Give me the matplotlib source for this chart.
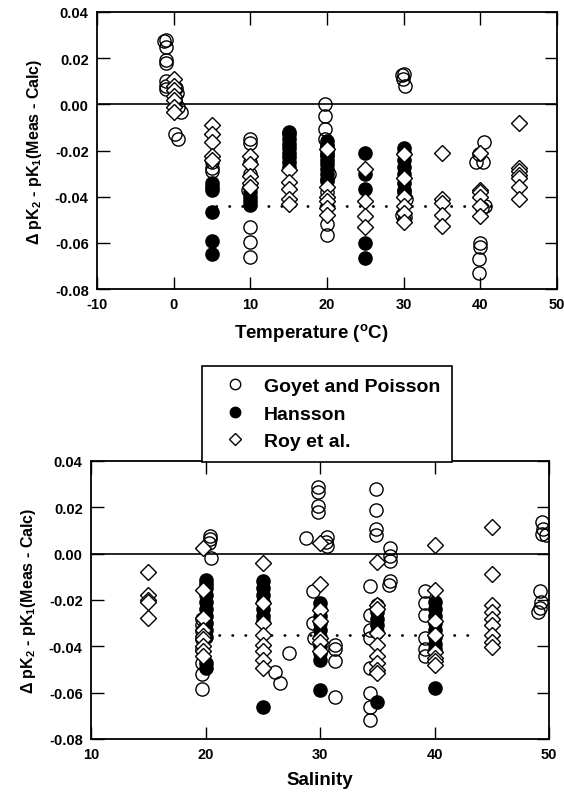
import matplotlib
matplotlib.use("Agg")
import matplotlib.pyplot as plt
from matplotlib.lines import Line2D

plt.rcParams['font.family'] = ['Liberation Sans', 'DejaVu Sans']
plt.rcParams['font.weight'] = 'bold'
plt.rcParams['mathtext.fontset'] = 'custom'
plt.rcParams['mathtext.rm'] = 'Liberation Sans:bold'
plt.rcParams['mathtext.bf'] = 'Liberation Sans:bold'
plt.rcParams['mathtext.it'] = 'Liberation Sans:bold'
plt.rcParams['axes.unicode_minus'] = False

# ---------------- Top panel: vs Temperature ----------------
t_goyet_x = [-1, -1, -1, -1, -1, -1, -1, -1.2,
             0.3, 0.4, 0.2, 0.5, 1.0, 0.2, 0.5,
             5, 5, 5,
             10, 10, 10, 10, 9.7, 10, 10, 10,
             19.8, 19.8, 19.8, 19.8, 20, 20, 20.2, 20, 20, 20, 20, 20,
             29.8, 30.1, 29.9, 30.2, 30, 30.3, 29.8, 30, 30.2,
             40.5, 39.8, 39.4, 40.4, 40.6, 40.2, 40, 40, 39.8, 39.8]
t_goyet_y = [0.0278, 0.025, 0.019, 0.018, 0.010, 0.008, 0.0065, 0.0275,
             0.007, 0.005, 0.002, -0.001, -0.0035, -0.013, -0.015,
             -0.0275, -0.029, -0.025,
             -0.015, -0.0166, -0.025, -0.030, -0.037, -0.053, -0.0597, -0.066,
             0.000, -0.005, -0.0105, -0.015, -0.018, -0.022, -0.030, -0.033, -0.038, -0.044, -0.052, -0.0565,
             0.0126, 0.013, 0.011, 0.008, -0.038, -0.041, -0.048, -0.050, -0.049,
             -0.0165, -0.0217, -0.025, -0.025, -0.044, -0.045, -0.060, -0.062, -0.067, -0.073]

t_hansson_x = [5, 5, 5, 5, 5, 5,
               10, 10, 10, 10, 10,
               15, 15, 15, 15, 15, 15, 15, 15, 15,
               20, 20, 20, 20, 20, 20, 20, 20, 20,
               25, 25, 25, 25, 25,
               30, 30, 30, 30, 30, 30, 30]
t_hansson_y = [-0.034, -0.036, -0.037, -0.0465, -0.059, -0.065,
               -0.036, -0.038, -0.040, -0.042, -0.0435,
               -0.012, -0.013, -0.015, -0.017, -0.019, -0.021, -0.023, -0.025, -0.027,
               -0.016, -0.018, -0.020, -0.022, -0.024, -0.026, -0.028, -0.030, -0.0325,
               -0.021, -0.030, -0.0365, -0.060, -0.0665,
               -0.019, -0.021, -0.024, -0.027, -0.030, -0.034, -0.037]

t_roy_x = [0, 0, 0, 0, 0, 0, 0,
           5, 5, 5, 5, 5,
           10, 10, 10, 10, 10,
           15, 15, 15, 15, 15,
           20, 20, 20, 20, 20, 20,
           25, 25, 25, 25,
           30, 30, 30, 30, 30, 30,
           35, 35, 35, 35, 35,
           40, 40, 40, 40, 40, 40,
           45, 45, 45, 45, 45, 45, 45]
t_roy_y = [0.011, 0.008, 0.006, 0.0035, 0.002, -0.001, -0.0035,
           -0.009, -0.013, -0.0165, -0.0225, -0.024,
           -0.0225, -0.026, -0.031, -0.034, -0.036,
           -0.0285, -0.0335, -0.0365, -0.041, -0.043,
           -0.0195, -0.036, -0.040, -0.042, -0.045, -0.048,
           -0.028, -0.042, -0.0485, -0.053,
           -0.0217, -0.032, -0.040, -0.044, -0.047, -0.051,
           -0.021, -0.041, -0.0427, -0.048, -0.0525,
           -0.021, -0.037, -0.038, -0.040, -0.044, -0.0485,
           -0.008, -0.0275, -0.029, -0.0305, -0.032, -0.036, -0.041]

t_mean_x = [5.5, 43]
t_mean_y = [-0.044, -0.044]

# ---------------- Bottom panel: vs Salinity ----------------
s_goyet_x = [19.7, 19.7, 19.7, 19.7, 19.7, 19.7, 19.7, 19.7,
             20.4, 20.4, 20.3, 20.5,
             26.1, 26.5, 27.3,
             28.8, 29.8, 29.8, 29.8, 29.8, 30.6, 30.6, 30.5,
             29.4, 29.4, 29.5,
             31.3, 31.3, 31.3, 31.3,
             34.9, 34.9, 34.9, 34.9, 36.1, 36.1, 36.1, 36.1, 36.0,
             34.4, 34.4, 34.4, 34.4, 34.4, 34.4, 34.4, 34.4,
             39.2, 39.2, 39.2, 39.2, 39.2, 39.2,
             49.4, 49.5, 49.4, 49.7,
             49.2, 49.3, 49.2, 49.0]
s_goyet_y = [-0.028, -0.031, -0.0335, -0.037, -0.041, -0.047, -0.052, -0.0585,
             0.0077, 0.0065, 0.0045, -0.002,
             -0.051, -0.056, -0.043,
             0.0069, 0.0288, 0.0266, 0.0207, 0.018, 0.007, 0.0035, 0.005,
             -0.016, -0.030, -0.0366,
             -0.0395, -0.041, -0.0465, -0.062,
             0.028, 0.019, 0.0108, 0.008, 0.0025, -0.001, -0.003, -0.012, -0.0137,
             -0.014, -0.0266, -0.033, -0.0366, -0.0495, -0.060, -0.066, -0.072,
             -0.016, -0.0215, -0.0266, -0.0366, -0.041, -0.044,
             0.0138, 0.0108, 0.0086, 0.008,
             -0.016, -0.0207, -0.0233, -0.025]

s_hansson_x = [20] * 12 + [25] * 8 + [30] * 10 + [35] * 6 + [40] * 9
s_hansson_y = [-0.0115, -0.013, -0.015, -0.018, -0.021, -0.024, -0.027, -0.030, -0.033, -0.036, -0.047, -0.0495,
               -0.012, -0.015, -0.018, -0.021, -0.024, -0.027, -0.029, -0.066,
               -0.0215, -0.024, -0.027, -0.030, -0.033, -0.036, -0.040, -0.043, -0.046, -0.059,
               -0.022, -0.025, -0.028, -0.031, -0.0336, -0.064,
               -0.0207, -0.024, -0.027, -0.030, -0.033, -0.036, -0.039, -0.041, -0.058]

s_roy_x = [15] * 5 + [19.8] * 9 + [25] * 8 + [30] * 7 + [35] * 9 + [40] * 8 + [45] * 9
s_roy_y = [-0.0078, -0.018, -0.020, -0.021, -0.0277,
           0.0025, -0.0155, -0.0277, -0.033, -0.0357, -0.037, -0.040, -0.042, -0.0443,
           -0.004, -0.0215, -0.030, -0.035, -0.0395, -0.042, -0.046, -0.0495,
           0.0045, -0.013, -0.0245, -0.029, -0.0366, -0.038, -0.042,
           -0.0034, -0.022, -0.0237, -0.0344, -0.0395, -0.044, -0.047, -0.050, -0.0516,
           0.0039, -0.0155, -0.029, -0.035, -0.0426, -0.045, -0.0465, -0.048,
           0.0116, -0.0086, -0.022, -0.025, -0.028, -0.031, -0.035, -0.038, -0.0405]

s_mean_x = [20, 43.4]
s_mean_y = [-0.035, -0.035]

series_labels = ["Goyet and Poisson", "Hansson", "Roy et al."]
y_ticks = [-0.08, -0.06, -0.04, -0.02, 0.00, 0.02, 0.04]
t_ticks = [-10, 0, 10, 20, 30, 40, 50]
s_ticks = [10, 20, 30, 40, 50]

W, H = 564, 803
fig = plt.figure(figsize=(W / 100, H / 100), dpi=100)

def box(l, t, r, b):
    return [l / W, 1 - b / H, (r - l) / W, (b - t) / H]

ax1 = fig.add_axes(box(97, 13, 557, 290))
ax2 = fig.add_axes(box(91, 462, 549, 740))

MS_C = 9.5
MS_D = 7.8

def draw(ax, gx, gy, hx, hy, rx, ry, mx, my):
    ax.axhline(0, color='black', lw=1.2, zorder=1)
    ax.plot(mx, my, color='black', lw=2.0, linestyle=(0, (0.1, 4.6)),
            dash_capstyle='round', zorder=2)
    ax.plot(gx, gy, 'o', ms=MS_C, mfc='none', mec='black', mew=1.0, zorder=3)
    ax.plot(hx, hy, 'o', ms=MS_C, mfc='black', mec='black', mew=1.0, zorder=4)
    ax.plot(rx, ry, 'D', ms=MS_D, mfc='white', mec='black', mew=1.0, zorder=5)
    ax.set_ylim(-0.08, 0.04)
    ax.set_yticks(y_ticks)
    ax.set_yticklabels([f"{v:.2f}" for v in y_ticks])
    ax.tick_params(direction='in', length=9, width=1.0, top=True, right=True,
                   labelsize=10.5, pad=6)
    for sp in ax.spines.values():
        sp.set_linewidth(1.3)
    ax.set_ylabel("Δ pK$_2$ - pK$_1$(Meas - Calc)", fontsize=11.5, fontweight='bold', labelpad=8)

draw(ax1, t_goyet_x, t_goyet_y, t_hansson_x, t_hansson_y, t_roy_x, t_roy_y, t_mean_x, t_mean_y)
ax1.set_xlim(-10, 50)
ax1.set_xticks(t_ticks)
ax1.set_xlabel("Temperature ($^{\\mathrm{o}}$C)", fontsize=13.5, fontweight='bold', labelpad=5)
ax1.xaxis.set_label_coords((311 - 97) / 460, -0.115)

draw(ax2, s_goyet_x, s_goyet_y, s_hansson_x, s_hansson_y, s_roy_x, s_roy_y, s_mean_x, s_mean_y)
ax2.set_xlim(10, 50)
ax2.set_xticks(s_ticks)
ax2.set_xlabel("Salinity", fontsize=13.5, fontweight='bold')
ax2.xaxis.set_label_coords(0.5, -0.115)

for ax in (ax1, ax2):
    for lab in ax.get_xticklabels() + ax.get_yticklabels():
        lab.set_fontweight('bold')

handles = [
    Line2D([], [], marker='o', ls='none', ms=7.5, mfc='none', mec='black', mew=1.0),
    Line2D([], [], marker='o', ls='none', ms=7.5, mfc='black', mec='black', mew=1.0),
    Line2D([], [], marker='D', ls='none', ms=6.2, mfc='white', mec='black', mew=1.0),
]
leg = fig.legend(handles, series_labels, loc='upper left',
                 bbox_to_anchor=(202 / W, 1 - 367 / H), bbox_transform=fig.transFigure,
                 frameon=True, fancybox=False, edgecolor='black', framealpha=1,
                 prop={'size': 14, 'weight': 'bold'}, borderpad=0.6,
                 handlelength=2.2, handletextpad=0.4, labelspacing=0.5,
                 borderaxespad=0)
leg.get_frame().set_linewidth(1.2)

fig.savefig("out.png", dpi=100)
